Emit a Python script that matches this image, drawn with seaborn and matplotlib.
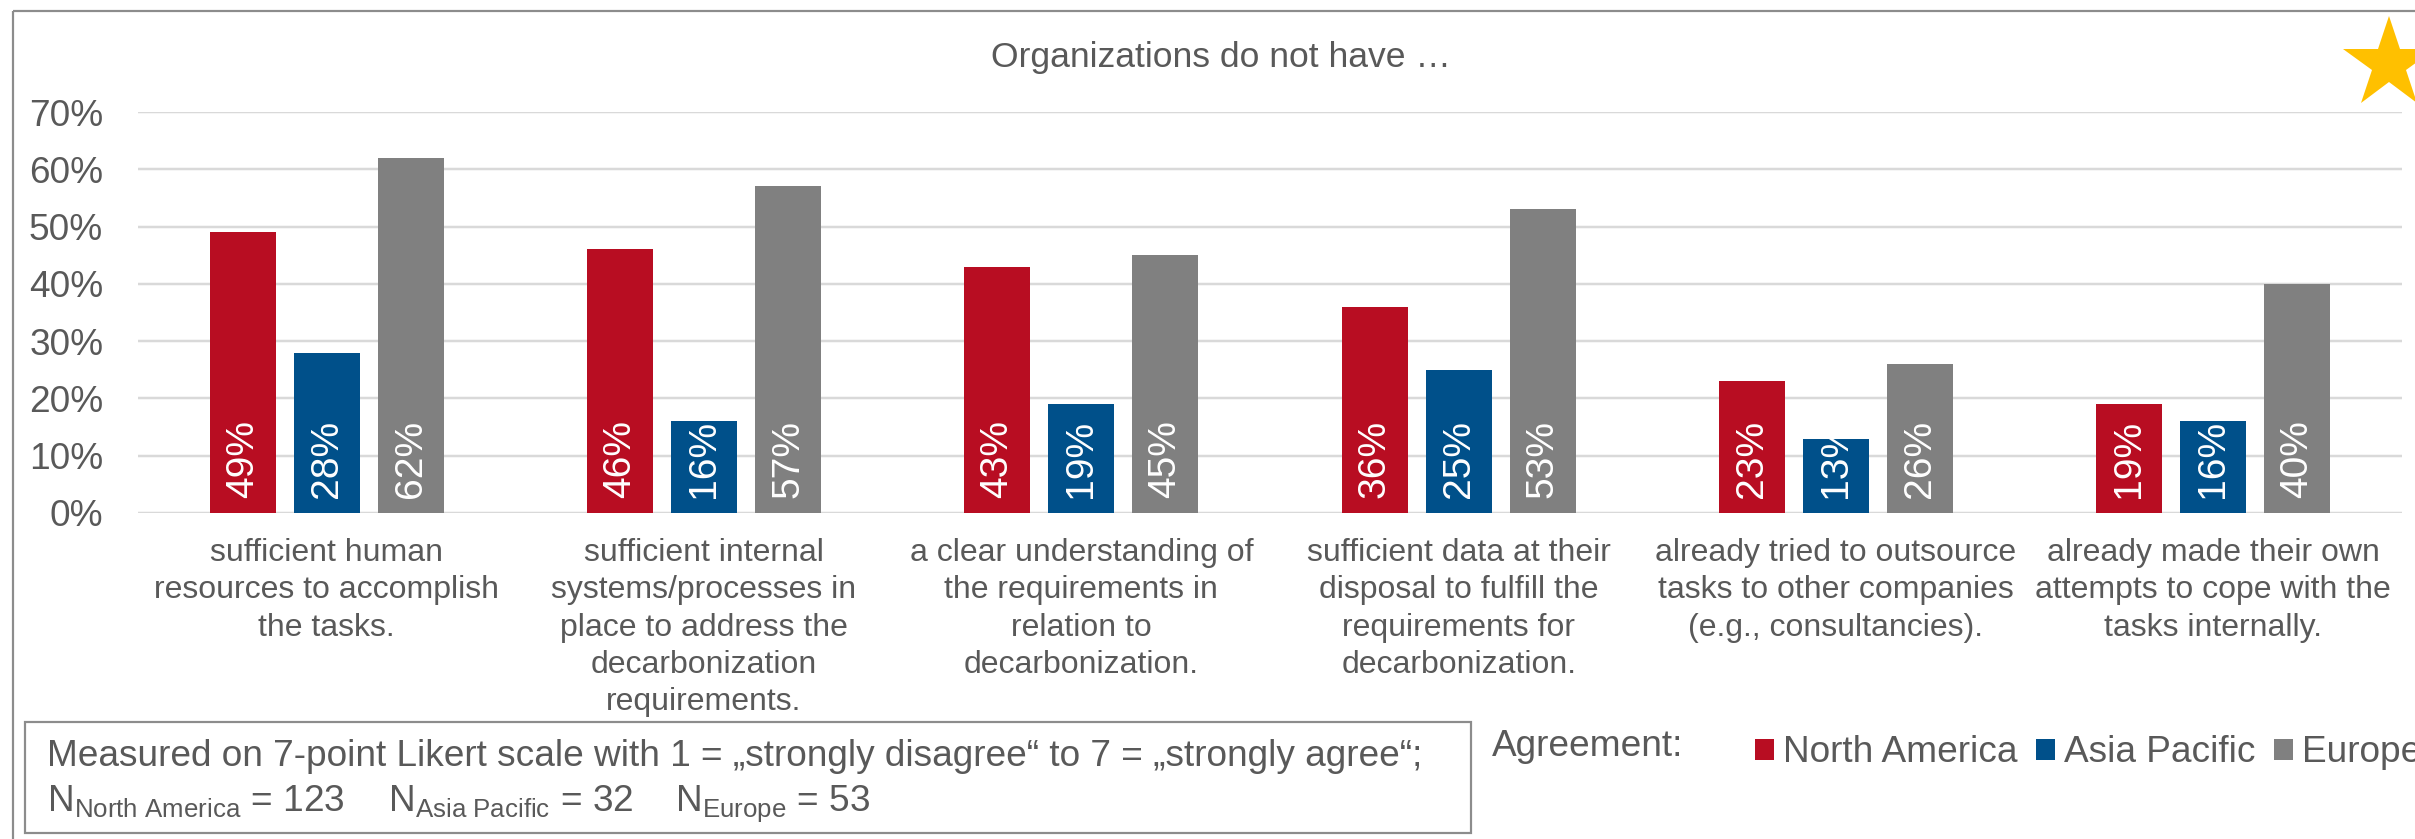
import numpy as np
import pandas as pd
import matplotlib
matplotlib.use("Agg")
import matplotlib.pyplot as plt
import seaborn as sns
from matplotlib.patches import Rectangle, Patch

# ---------------- data ----------------
categories = [
    "sufficient human\nresources to accomplish\nthe tasks.",
    "sufficient internal\nsystems/processes in\nplace to address the\ndecarbonization\nrequirements.",
    "a clear understanding of\nthe requirements in\nrelation to\ndecarbonization.",
    "sufficient data at their\ndisposal to fulfill the\nrequirements for\ndecarbonization.",
    "already tried to outsource\ntasks to other companies\n(e.g., consultancies).",
    "already made their own\nattempts to cope with the\ntasks internally.",
]
regions = ["North America", "Asia Pacific", "Europe"]
north_america = [0.49, 0.46, 0.43, 0.36, 0.23, 0.19]
asia_pacific = [0.28, 0.16, 0.19, 0.25, 0.13, 0.16]
europe = [0.62, 0.57, 0.45, 0.53, 0.26, 0.40]
yticks = [0.0, 0.1, 0.2, 0.3, 0.4, 0.5, 0.6, 0.7]
ytick_labels = ["0%", "10%", "20%", "30%", "40%", "50%", "60%", "70%"]
colors = ["#B80D22", "#00508A", "#808080"]
title = "Organizations do not have …"
legend_title = "Agreement:"
note_line1 = "Measured on 7-point Likert scale with 1 = „strongly disagree“ to 7 = „strongly agree“;"
sample_sizes = [123, 32, 53]

# ---------------- setup ----------------
W, H = 2415, 839
DPI = 100
PX = 72.0 / DPI  # points per pixel
TXT = "#595959"

sns.set_theme(style="white")
plt.rcParams["font.family"] = ["Liberation Sans", "DejaVu Sans"]
plt.rcParams["mathtext.fontset"] = "custom"
plt.rcParams["mathtext.rm"] = "Liberation Sans"
plt.rcParams["mathtext.it"] = "Liberation Sans:italic"
plt.rcParams["mathtext.bf"] = "Liberation Sans:bold"

fig = plt.figure(figsize=(W / DPI, H / DPI), dpi=DPI)
fig.patch.set_facecolor("white")

ax = fig.add_axes([138 / W, 1 - 513 / H, (2402 - 138) / W, (513 - 112) / H])

rows = []
for reg, vals in zip(regions, [north_america, asia_pacific, europe]):
    for cat, v in zip(categories, vals):
        rows.append({"category": cat, "region": reg, "value": v})
df = pd.DataFrame(rows)

sns.barplot(data=df, x="category", y="value", hue="region",
            order=categories, hue_order=regions, palette=colors,
            saturation=1, width=0.668, gap=0.214, linewidth=0,
            errorbar=None, ax=ax)
if ax.get_legend() is not None:
    ax.get_legend().remove()

for cont in ax.containers:
    for bar in cont:
        h = bar.get_height()
        ax.annotate(f"{h*100:.0f}%",
                    xy=(bar.get_x() + bar.get_width() / 2, 0),
                    xytext=(0, 15 * PX), textcoords="offset points",
                    rotation=90, ha="center", va="bottom",
                    color="white", fontsize=39 * PX)

ax.set_ylim(0, 0.7)
ax.set_yticks(yticks, ytick_labels)
ax.set_xlabel("")
ax.set_ylabel("")
ax.tick_params(axis="y", length=0, pad=25, labelsize=37 * PX, labelcolor=TXT)
ax.tick_params(axis="x", length=0, pad=25 * PX, labelsize=32 * PX, labelcolor=TXT)
for lbl in ax.get_xticklabels():
    lbl.set_linespacing(1.32)
ax.yaxis.grid(True, color="#D9D9D9", linewidth=2.5 * PX)
ax.xaxis.grid(False)
ax.set_axisbelow(True)
for s in ax.spines.values():
    s.set_visible(False)
ax.patch.set_visible(False)

# ---------------- overlay (frame, text, star) ----------------
ov = fig.add_axes([0, 0, 1, 1])
ov.set_xlim(0, W)
ov.set_ylim(H, 0)
ov.axis("off")
ov.patch.set_visible(False)

ov.add_patch(Rectangle((13, 11), W + 40, H + 40, fill=False,
                       edgecolor="#8C8C8C", lw=2.2 * PX, clip_on=False))
ov.add_patch(Rectangle((25, 722), 1471 - 25, 833 - 722, fill=False,
                       edgecolor="#8C8C8C", lw=2.2 * PX, clip_on=False))

ov.text(1221, 58, title, ha="center", va="center", fontsize=35.5 * PX, color=TXT)

ov.text(47, 766, note_line1, ha="left", va="baseline", fontsize=37 * PX, color=TXT)
for x0, reg, n in zip([47, 388, 675], regions, sample_sizes):
    name = reg.replace(" ", r"\ ")
    ov.text(x0, 811, "N$_{\\mathrm{" + name + "}}$ = " + str(n),
            ha="left", va="baseline", fontsize=37 * PX, color=TXT)

ov.text(1492, 747, legend_title, ha="left", va="center", fontsize=37 * PX, color=TXT)

ov.plot([2389], [64], marker="*", markersize=2 * 48 * PX, color="#FFC000",
        markeredgewidth=0, clip_on=False)

handles = [Patch(facecolor=c, edgecolor="none") for c in colors]
fig.legend(handles, regions, loc="center left",
           bbox_to_anchor=(1755 / W, 1 - 753 / H), ncol=3, frameon=False,
           fontsize=37 * PX, labelcolor=TXT, handlelength=0.51, handleheight=0.51,
           handletextpad=0.24, columnspacing=0.51, borderpad=0, borderaxespad=0)

fig.savefig("out.png", dpi=DPI, facecolor="white")
